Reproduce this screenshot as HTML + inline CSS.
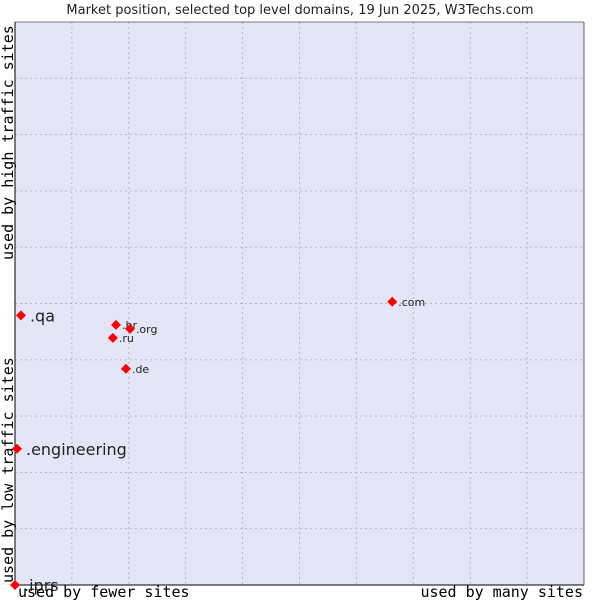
<!DOCTYPE html>
<html><head><meta charset="utf-8"><style>
body{margin:0;background:#fff;width:600px;height:600px;overflow:hidden}
svg{display:block;font-family:"DejaVu Sans","Liberation Sans",sans-serif}
</style></head><body>
<svg width="600" height="600">
<text x="300" y="14" text-anchor="middle" font-size="13" fill="#222">Market position, selected top level domains, 19 Jun 2025, W3Techs.com</text>
<rect x="15" y="22" width="569" height="563" fill="#e4e6f8"/>
<g id="grid"></g>
<line x1="15" y1="22" x2="15" y2="585" stroke="#000"/>
<line x1="15" y1="585" x2="584" y2="585" stroke="#000"/>
<line x1="15" y1="22" x2="584" y2="22" stroke="#000" stroke-width="0.6"/>
<line x1="584" y1="22" x2="584" y2="585" stroke="#000" stroke-width="0.6"/>
<g id="points"></g>
<g font-family="'DejaVu Sans Mono','Liberation Mono',monospace" font-size="15" fill="#000">
<text x="18" y="597">used by fewer sites</text>
<text x="583" y="597" text-anchor="end">used by many sites</text>
<text transform="translate(13,583) rotate(-90)">used by low traffic sites</text>
<text transform="translate(13,260) rotate(-90)">used by high traffic sites</text>
</g>
</svg>
<script>
const labels=[".com",".qa",".br",".org",".ru",".de",".engineering",".iprs"];
const xVals=[66.3,1.05,17.75,20.2,17.2,19.5,0.35,0];
const yVals=[50.3,47.9,46.2,45.5,43.9,38.4,24.2,0];
const bigLabel=[false,true,false,false,false,false,true,true];
const L=15,T=22,W=569,H=563;
const sx=v=>L+v/100*W, sy=v=>T+H-v/100*H;
const NS="http://www.w3.org/2000/svg";
const grid=document.getElementById('grid');
for(let i=1;i<10;i++){
 const a=document.createElementNS(NS,'line');
 
 
 a.setAttribute('x1',sx(i*10));a.setAttribute('x2',sx(i*10));a.setAttribute('y1',T);a.setAttribute('y2',T+H);
 a.setAttribute('stroke','#b4b4b4');a.setAttribute('stroke-width','0.9');a.setAttribute('stroke-dasharray','2,3');grid.appendChild(a);
 const b=document.createElementNS(NS,'line');
 
 
 b.setAttribute('y1',sy(i*10));b.setAttribute('y2',sy(i*10));b.setAttribute('x1',L);b.setAttribute('x2',L+W);
 b.setAttribute('stroke','#b4b4b4');b.setAttribute('stroke-width','0.9');b.setAttribute('stroke-dasharray','2,3');grid.appendChild(b);
}
const g=document.getElementById('points');
labels.forEach((lab,i)=>{
 const x=sx(xVals[i]),y=sy(yVals[i]);
 const p=document.createElementNS(NS,'polygon');
 
 
 p.setAttribute('points',`${x},${y-5} ${x+5},${y} ${x},${y+5} ${x-5},${y}`);
 p.setAttribute('fill','#f00');g.appendChild(p);
 const t=document.createElementNS(NS,'text');
 
 
 const big=bigLabel[i];
 t.setAttribute('x',x+(big?9:6));t.setAttribute('y',y+(big?6:4));
 t.setAttribute('font-size',big?16:11);t.setAttribute('fill','#222');
 t.textContent=lab;g.appendChild(t);
});
</script>
</body></html>
